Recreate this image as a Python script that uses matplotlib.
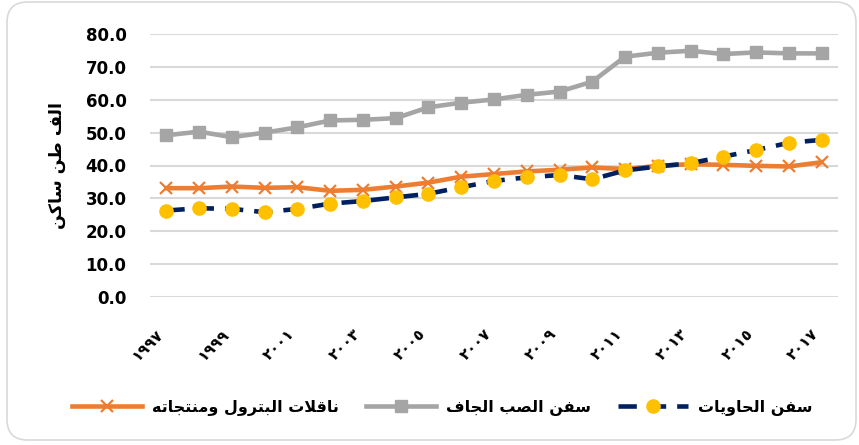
import matplotlib
matplotlib.use('Agg')
import matplotlib.pyplot as plt
from matplotlib.patches import FancyBboxPatch

# Data (thousand deadweight tons)
years = list(range(1997, 2018))
dry_bulk = [49.2, 50.3, 48.6, 50.0, 51.6, 53.7, 53.9, 54.4, 57.7, 59.1, 60.1,
            61.5, 62.5, 65.5, 73.1, 74.3, 74.9, 73.9, 74.4, 74.1, 74.1]
petroleum = [33.1, 33.1, 33.6, 33.2, 33.4, 32.3, 32.6, 33.6, 34.8, 36.6, 37.4,
             38.2, 38.7, 39.4, 38.9, 39.9, 40.4, 40.2, 39.9, 39.7, 41.0]
containers = [26.3, 27.0, 26.8, 25.8, 26.8, 28.4, 29.2, 30.3, 31.4, 33.4, 35.3,
              36.4, 37.1, 35.8, 38.5, 39.7, 40.7, 42.7, 44.7, 46.9, 47.8]
y_ticks = [0, 10, 20, 30, 40, 50, 60, 70, 80]

name_containers = 'سفن الحاويات'
name_dry_bulk = 'سفن الصب الجاف'
name_petroleum = 'ناقلات البترول ومنتجاته'
y_title = 'الف طن ساكن'


# minimal arabic shaping: matplotlib has no bidi / joining support
# forms: isolated, final, initial, medial (None = does not join to the left)
FORMS = {
    'ا': ('\uFE8D', '\uFE8E', None, None),
    'ب': ('\uFE8F', '\uFE90', '\uFE91', '\uFE92'),
    'ت': ('\uFE95', '\uFE96', '\uFE97', '\uFE98'),
    'ج': ('\uFE9D', '\uFE9E', '\uFE9F', '\uFEA0'),
    'ح': ('\uFEA1', '\uFEA2', '\uFEA3', '\uFEA4'),
    'ر': ('\uFEAD', '\uFEAE', None, None),
    'س': ('\uFEB1', '\uFEB2', '\uFEB3', '\uFEB4'),
    'ص': ('\uFEB9', '\uFEBA', '\uFEBB', '\uFEBC'),
    'ط': ('\uFEC1', '\uFEC2', '\uFEC3', '\uFEC4'),
    'ف': ('\uFED1', '\uFED2', '\uFED3', '\uFED4'),
    'ق': ('\uFED5', '\uFED6', '\uFED7', '\uFED8'),
    'ك': ('\uFED9', '\uFEDA', '\uFEDB', '\uFEDC'),
    'ل': ('\uFEDD', '\uFEDE', '\uFEDF', '\uFEE0'),
    'م': ('\uFEE1', '\uFEE2', '\uFEE3', '\uFEE4'),
    'ن': ('\uFEE5', '\uFEE6', '\uFEE7', '\uFEE8'),
    'ه': ('\uFEE9', '\uFEEA', '\uFEEB', '\uFEEC'),
    'و': ('\uFEED', '\uFEEE', None, None),
    'ي': ('\uFEF1', '\uFEF2', '\uFEF3', '\uFEF4'),
    'ﻻ': ('\uFEFB', '\uFEFC', None, None),
}


def shape(text):
    text = text.replace('لا', 'ﻻ')
    out = []
    for i, c in enumerate(text):
        if c not in FORMS:
            out.append(c)
            continue
        prev = text[i - 1] if i > 0 else ''
        nxt = text[i + 1] if i + 1 < len(text) else ''
        join_prev = prev in FORMS and FORMS[prev][2] is not None
        join_next = FORMS[c][2] is not None and nxt in FORMS
        iso, fin, ini, med = FORMS[c]
        if join_prev and join_next:
            out.append(med)
        elif join_prev:
            out.append(fin)
        elif join_next:
            out.append(ini)
        else:
            out.append(iso)
    return ''.join(out)[::-1]


def arabic_digits(s):
    return s.translate(str.maketrans('0123456789', '٠١٢٣٤٥٦٧٨٩'))


plt.rcParams['font.family'] = ['DejaVu Sans']

fig = plt.figure(figsize=(8.59, 4.45), dpi=100)
ax = fig.add_axes([150/859, 1 - 297/445, 688/859, 263/445])

x = list(range(len(years)))
ax.plot(x, dry_bulk, color='#A5A5A5', lw=3.3, marker='s', ms=9,
        label=shape(name_dry_bulk), zorder=3)
ax.plot(x, petroleum, color='#ED7D31', lw=3.3, marker='x', ms=9, mew=1.6,
        label=shape(name_petroleum), zorder=4)
ax.plot(x, containers, color='#002060', lw=3.3, ls=(0, (4, 2.4)),
        marker='o', ms=9.5, mfc='#FFC000', mec='#FFC000',
        label=shape(name_containers), zorder=5)

ax.set_xlim(-0.5, len(years) - 0.5)
ax.set_ylim(0, 80)
ax.set_yticks(y_ticks)
ax.set_yticklabels(['%.1f' % v for v in y_ticks], fontsize=12, fontweight='bold')
ax.grid(axis='y', color='#D9D9D9', lw=1.5)
ax.set_axisbelow(True)
for s in ax.spines.values():
    s.set_visible(False)
ax.tick_params(axis='y', length=0, pad=17)
ax.tick_params(axis='x', length=0, pad=21)

label_pos = x[::2]
ax.set_xticks(label_pos)
ax.set_xticklabels([arabic_digits(str(years[i])) for i in label_pos],
                   rotation=45, ha='right', va='top', fontsize=11, fontweight='bold')

ax.set_ylabel(shape(y_title), fontsize=12.5, fontweight='bold', labelpad=14)

handles, labels = ax.get_legend_handles_labels()
order = [1, 0, 2]
fig.legend([handles[i] for i in order], [labels[i] for i in order],
           loc='center', bbox_to_anchor=(442/859, 1 - 408/445), ncol=3,
           frameon=False, handlelength=4.4, columnspacing=1.7, handletextpad=0.6,
           prop={'size': 11.5, 'weight': 'bold'})

border = FancyBboxPatch((7/859, 5/445), 849/859, 438/445,
                        boxstyle='round,pad=0,rounding_size=0.024',
                        transform=fig.transFigure, fill=False,
                        ec='#D9D9D9', lw=1.2, mutation_aspect=859/445)
fig.patches.append(border)

fig.savefig('out.png', dpi=100)
